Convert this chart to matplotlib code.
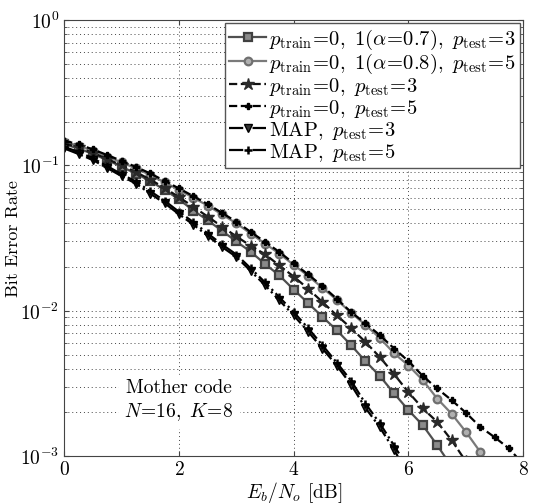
import numpy as np
import matplotlib
matplotlib.use("Agg")
import matplotlib.pyplot as plt

plt.rcParams['font.family'] = 'serif'
plt.rcParams['font.serif'] = ['cmr10', 'DejaVu Serif']
plt.rcParams['mathtext.fontset'] = 'cm'
plt.rcParams['axes.formatter.use_mathtext'] = True

# Eb/No grid (dB), 0.25 dB steps
ebno = np.arange(0, 8.01, 0.25)

# BER curves
ber_a07_t3 = [0.140, 0.131, 0.120, 0.109, 0.098, 0.088, 0.078, 0.068, 0.0585, 0.049,
              0.0420, 0.0355, 0.0300, 0.0255, 0.0210, 0.0175, 0.0140, 0.0113, 0.0091,
              0.00735, 0.0058, 0.0045, 0.00356, 0.0027, 0.00207, 0.00163, 0.00119, 0.00085]
ber_a08_t5 = [0.145, 0.137, 0.126, 0.115, 0.105, 0.0955, 0.086, 0.0765, 0.068, 0.060,
              0.053, 0.046, 0.040, 0.034, 0.029, 0.0247, 0.0207, 0.0174, 0.0144, 0.0119,
              0.0097, 0.0080, 0.0065, 0.0051, 0.0042, 0.00333, 0.00249, 0.00196,
              0.00147, 0.00107]
ber_p0_t3 = [0.142, 0.133, 0.122, 0.111, 0.100, 0.090, 0.080, 0.070, 0.0605, 0.052,
             0.0445, 0.038, 0.0325, 0.028, 0.0245, 0.0205, 0.0172, 0.0142, 0.0115,
             0.0093, 0.0076, 0.0061, 0.0048, 0.00366, 0.00275, 0.00213, 0.00172,
             0.00129, 0.00092]
ber_p0_t5 = [0.148, 0.140, 0.129, 0.118, 0.1076, 0.0978, 0.0881, 0.0784, 0.0695, 0.0615,
             0.0542, 0.0472, 0.041, 0.0349, 0.0298, 0.0254, 0.0212, 0.0178, 0.0148,
             0.0121, 0.0098, 0.0082, 0.0068, 0.0055, 0.0045, 0.00356, 0.00292, 0.00243,
             0.00199, 0.00159, 0.00135, 0.00113, 0.00088]
ber_map_t3 = [0.131, 0.120, 0.109, 0.096, 0.0845, 0.075, 0.064, 0.055, 0.0462, 0.0392,
              0.0328, 0.0275, 0.0235, 0.0188, 0.0150, 0.0118, 0.0093, 0.0072, 0.0055,
              0.0042, 0.0031, 0.00215, 0.00158, 0.0011, 0.00075]
ber_map_t5 = [0.134, 0.124, 0.112, 0.099, 0.0870, 0.0775, 0.0665, 0.0572, 0.0480, 0.0408,
              0.0341, 0.0286, 0.0244, 0.0196, 0.0157, 0.0124, 0.0098, 0.0076, 0.0058,
              0.0044, 0.0033, 0.0023, 0.00168, 0.00118, 0.00082]

labels = [
    r'$p_{\rm train}\!=\!0,\ 1(\alpha\!=\!0.7),\ p_{\rm test}\!=\!3$',
    r'$p_{\rm train}\!=\!0,\ 1(\alpha\!=\!0.8),\ p_{\rm test}\!=\!5$',
    r'$p_{\rm train}\!=\!0,\ p_{\rm test}\!=\!3$',
    r'$p_{\rm train}\!=\!0,\ p_{\rm test}\!=\!5$',
    r'${\rm MAP},\ p_{\rm test}\!=\!3$',
    r'${\rm MAP},\ p_{\rm test}\!=\!5$',
]

fig = plt.figure(figsize=(5.35, 5.04), dpi=100)
ax = fig.add_axes([0.12, 0.095, 0.858, 0.865])

def xs(vals):
    return ebno[:len(vals)]

ax.semilogy(xs(ber_a07_t3), ber_a07_t3, '-', color='#505050', lw=1.6, marker='s', ms=5.5,
            mfc='#8a8a8a', mec='#404040', mew=1.6, label=labels[0])
ax.semilogy(xs(ber_a08_t5), ber_a08_t5, '-', color='#7a7a7a', lw=1.6, marker='o', ms=5.5,
            mfc='#b0b0b0', mec='#707070', mew=1.6, label=labels[1])
ax.semilogy(xs(ber_p0_t3), ber_p0_t3, '--', color='#111111', lw=1.6, marker='*', ms=9,
            mfc='#2a2a2a', mec='#2a2a2a', label=labels[2])
ax.semilogy(xs(ber_p0_t5), ber_p0_t5, '--', color='black', lw=1.6, marker='P', ms=5,
            mfc='black', mec='black', label=labels[3])
ax.semilogy(xs(ber_map_t3), ber_map_t3, '-.', color='black', lw=1.6, marker='v', ms=6,
            mfc='#333333', mec='black', label=labels[4])
ax.semilogy(xs(ber_map_t5), ber_map_t5, '-.', color='black', lw=1.6, marker='+', ms=6,
            mew=1.8, label=labels[5])

ax.set_xlim(0, 8)
ax.set_ylim(1e-3, 1)
ax.set_xticks([0, 2, 4, 6, 8])
ax.grid(True, which='major', linestyle=(0, (1, 3)), color='#444444', lw=0.7)
ax.grid(True, which='minor', axis='y', linestyle=(0, (1, 3)), color='#444444', lw=0.7)
ax.tick_params(which='both', direction='in', top=True, right=True, labelsize=14,
               colors='#444444', labelcolor='black')
for s in ax.spines.values():
    s.set_color('#444444')

ax.set_xlabel(r'$E_b/N_o$ [dB]', fontsize=14, labelpad=1)
ax.set_ylabel('Bit Error Rate', fontsize=13)
ax.yaxis.set_label_coords(-0.095, 0.5)

ax.text(2.0, 2.4e-3, 'Mother code\n' + r'$N\!=\!16,\ K\!=\!8$', ha='center', va='center',
        fontsize=14, linespacing=1.25, backgroundcolor='white')

leg = ax.legend(loc='upper right', fontsize=14.8, handlelength=1.8, handletextpad=0.15,
                labelspacing=0.0, borderpad=0.2, borderaxespad=0.15, fancybox=False,
                framealpha=1, edgecolor='#555555')
leg.get_frame().set_linewidth(1.0)

fig.savefig('out.png', dpi=100)
